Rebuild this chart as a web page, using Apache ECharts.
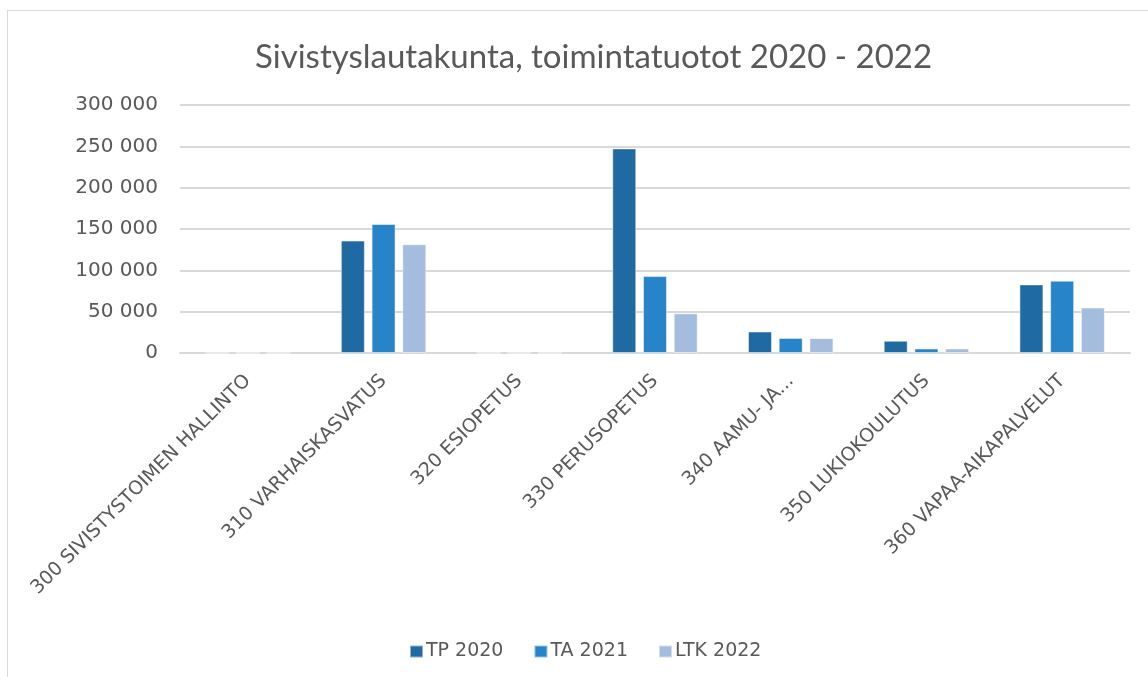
<!DOCTYPE html>
<html>
<head>
<meta charset="utf-8">
<script src="https://cdn.jsdelivr.net/npm/echarts@6/dist/echarts.min.js"></script>
<style>
  html, body { margin: 0; padding: 0; background: #fff; }
  #frame { position: absolute; left: 7px; top: 10px; width: 1160px; height: 680px; border: 1px solid #d9d9d9; box-sizing: border-box; }
  #main { position: absolute; left: 0; top: 0; width: 1148px; height: 677px; }
</style>
</head>
<body>
<div id="frame"></div>
<div id="main"></div>
<script>
// kategoriat ja sarjat
var categories = ['300 SIVISTYSTOIMEN HALLINTO', '310 VARHAISKASVATUS', '320 ESIOPETUS',
  '330 PERUSOPETUS', '340 AAMU- JA...', '350 LUKIOKOULUTUS', '360 VAPAA-AIKAPALVELUT'];
var tp2020 = [0, 136000, 0, 247500, 26000, 14800, 83000];
var ta2021 = [0, 156000, 0, 93000, 18200, 5500, 87500];
var ltk2022 = [0, 131500, 0, 48000, 18000, 5500, 55000];
var seriesNames = ['TP 2020', 'TA 2021', 'LTK 2022'];
var colors = ['#1f6aa3', '#2884c9', '#a4bcdd'];

var font = '"DejaVu Sans", sans-serif';
var myChart = echarts.init(document.getElementById('main'));

function bar(name, data, color) {
  return {
    name: name,
    type: 'bar',
    data: data,
    barWidth: 24,
    barGap: '28%',
    itemStyle: { color: color, borderColor: 'rgba(255,255,255,0.5)', borderWidth: 1 }
  };
}

option = {
  animation: false,
  color: colors,
  title: {
    text: 'Sivistyslautakunta, toimintatuotot 2020 - 2022',
    left: 250,
    top: 36,
    textStyle: { fontFamily: 'Lato, sans-serif', fontSize: 33, fontWeight: 'normal', color: '#595959' }
  },
  legend: {
    top: 637,
    left: 404,
    itemWidth: 13,
    itemHeight: 12,
    itemGap: 30,
    icon: 'rect',
    textStyle: { fontFamily: font, fontSize: 19, color: '#595959', padding: [0, 0, 0, -2] },
    data: seriesNames
  },
  grid: { left: 180, right: 18, top: 105, bottom: 324 },
  xAxis: {
    type: 'category',
    data: categories,
    axisTick: { show: false },
    axisLine: { lineStyle: { color: '#d9d9d9', width: 2 } },
    axisLabel: {
      interval: 0,
      rotate: 45,
      margin: 25,
      fontFamily: font,
      fontSize: 19,
      color: '#595959'
    }
  },
  yAxis: {
    type: 'value',
    min: 0,
    max: 300000,
    interval: 50000,
    axisLine: { show: false },
    axisTick: { show: false },
    splitLine: { lineStyle: { color: '#d9d9d9', width: 2 } },
    axisLabel: {
      margin: 22,
      fontFamily: font,
      fontSize: 20,
      color: '#595959',
      formatter: function (v) {
        return String(v).replace(/\B(?=(\d{3})+(?!\d))/g, ' ');
      }
    }
  },
  series: [
    bar(seriesNames[0], tp2020, colors[0]),
    bar(seriesNames[1], ta2021, colors[1]),
    bar(seriesNames[2], ltk2022, colors[2])
  ]
};

myChart.setOption(option);
</script>
</body>
</html>
